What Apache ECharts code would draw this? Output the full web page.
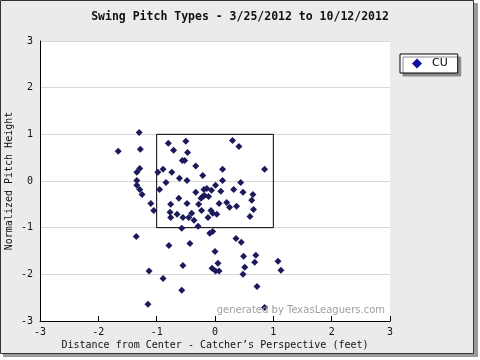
<!DOCTYPE html>
<html><head><meta charset="utf-8">
<script src="https://cdn.jsdelivr.net/npm/echarts@6/dist/echarts.min.js"></script>
<style>html,body{margin:0;padding:0;background:#fff;}#c{width:480px;height:360px;}</style>
</head><body><div id="c"></div>
<script>
const titleText = 'Swing Pitch Types - 3/25/2012 to 10/12/2012';
const seriesName = 'CU';
const xTicks = [-3, -2, -1, 0, 1, 2, 3];
const yTicks = [-3, -2, -1, 0, 1, 2, 3];
const zoneX = [-1, 1, 1, -1, -1];
const zoneY = [1, 1, -1, -1, 1];
const pitchX = [-1.30,-1.66,-1.28,-0.80,-0.50,-0.71,-0.47,-0.56,-0.52,-1.29,-1.34,-0.33,-0.98,-0.89,-0.74,-0.21,-0.61,-0.48,-1.34,-0.84,-1.34,-1.29,-0.95,-1.25,0.01,-0.33,-0.19,-0.14,-0.06,-0.24,-0.21,-0.18,-0.11,-0.62,-0.48,-0.28,-0.76,-1.10,-1.05,-0.77,-0.65,-0.76,-0.55,-0.45,-0.40,-0.36,-0.23,-0.12,-0.07,-0.04,-0.29,-0.57,0.30,0.41,0.13,0.85,0.13,0.44,0.10,0.32,0.48,0.65,0.63,0.07,0.20,0.25,0.37,0.66,0.60,0.03,-1.35,-0.09,-0.04,0.36,0.45,-0.79,-0.43,0.00,0.49,0.70,-0.55,0.05,-0.05,0.01,0.07,0.51,0.68,0.48,1.08,1.13,-1.13,-0.89,0.72,-0.57,-1.15,0.85];
const pitchY = [1.04,0.64,0.68,0.81,0.85,0.66,0.61,0.44,0.44,0.27,0.19,0.32,0.19,0.25,0.19,0.12,0.06,0.01,0.01,-0.03,-0.09,-0.18,-0.18,-0.29,-0.09,-0.24,-0.18,-0.16,-0.20,-0.37,-0.33,-0.31,-0.33,-0.37,-0.48,-0.50,-0.50,-0.48,-0.63,-0.67,-0.71,-0.78,-0.78,-0.78,-0.69,-0.84,-0.63,-0.78,-0.63,-0.69,-0.97,-1.01,0.87,0.74,0.25,0.25,0.01,-0.03,-0.22,-0.18,-0.24,-0.29,-0.41,-0.48,-0.46,-0.56,-0.54,-0.61,-0.76,-0.71,-1.19,-1.12,-1.08,-1.23,-1.31,-1.38,-1.34,-1.51,-1.61,-1.59,-1.81,-1.76,-1.87,-1.93,-1.93,-1.85,-1.74,-2.00,-1.72,-1.91,-1.93,-2.09,-2.26,-2.34,-2.64,-2.71];

const chart = echarts.init(document.getElementById('c'), null, {renderer: 'canvas'});
const mono = 'DejaVu Sans Mono';
chart.setOption({
  animation: false,
  backgroundColor: '#ffffff',
  title: {
    text: titleText, left: 'center', top: 6,
    textStyle: {fontFamily: mono, fontSize: 11.5, fontWeight: 'bold', color: '#111'}
  },
  graphic: [
    {type: 'rect', z: -10, shape: {x: 3, y: 3, width: 475, height: 354}, style: {fill: '#9a9a9a'}},
    {type: 'rect', z: -9, shape: {x: 0.5, y: 0.5, width: 473, height: 353}, style: {fill: '#ebebeb', stroke: '#333', lineWidth: 1}},
    {type: 'text', z: 10, right: 95, top: 305, style: {text: 'generated by TexasLeaguers.com', fill: '#a0a0a0', font: '10px "DejaVu Sans"'}}
  ],
  legend: {
    left: 400, top: 54, orient: 'vertical',
    data: [seriesName],
    icon: 'diamond', itemWidth: 10, itemHeight: 10,
    padding: [4, 10, 4, 12],
    backgroundColor: '#fff', borderColor: '#000', borderWidth: 1,
    shadowColor: '#8a8a8a', shadowOffsetX: 3, shadowOffsetY: 3, shadowBlur: 0,
    itemStyle: {color: '#1010a0', opacity: 1},
    textStyle: {fontFamily: 'DejaVu Sans', fontSize: 11, color: '#000', padding: [0, 0, 0, 5]}
  },
  grid: {left: 40, right: 90, top: 41, bottom: 39, show: true, backgroundColor: '#fff', borderWidth: 0, outerBoundsMode: 'none', containLabel: false},
  xAxis: {
    type: 'value', min: xTicks[0], max: xTicks[xTicks.length - 1], interval: 1,
    name: 'Distance from Center - Catcher’s Perspective (feet)',
    nameLocation: 'middle', nameGap: 19, nameMoveOverlap: false,
    nameTextStyle: {fontFamily: mono, fontSize: 10, color: '#111'},
    axisLine: {show: true, onZero: false, lineStyle: {color: '#000', width: 1}},
    axisTick: {show: true, inside: true, length: 5, lineStyle: {color: '#000'}},
    axisLabel: {fontFamily: mono, fontSize: 10, color: '#111', margin: 6},
    splitLine: {show: false}
  },
  yAxis: {
    type: 'value', min: yTicks[0], max: yTicks[yTicks.length - 1], interval: 1,
    name: 'Normalized Pitch Height',
    nameLocation: 'middle', nameGap: 26, nameRotate: 90, nameMoveOverlap: false,
    nameTextStyle: {fontFamily: mono, fontSize: 10, color: '#111'},
    axisLine: {show: true, onZero: false, lineStyle: {color: '#000', width: 1}},
    axisTick: {show: false},
    axisLabel: {fontFamily: mono, fontSize: 10, color: '#111', margin: 7},
    splitLine: {show: true, lineStyle: {color: '#d8d8d8', width: 1}}
  },
  series: [
    {
      type: 'line', silent: true, symbol: 'none', z: 1,
      data: zoneX.map((x, i) => [x, zoneY[i]]),
      lineStyle: {color: '#000', width: 1}
    },
    {
      name: seriesName, type: 'scatter', symbol: 'diamond', symbolSize: 7, z: 3,
      data: pitchX.map((x, i) => [x, pitchY[i]]),
      itemStyle: {color: '#1b1b5c', opacity: 1}
    }
  ]
});
</script></body></html>
